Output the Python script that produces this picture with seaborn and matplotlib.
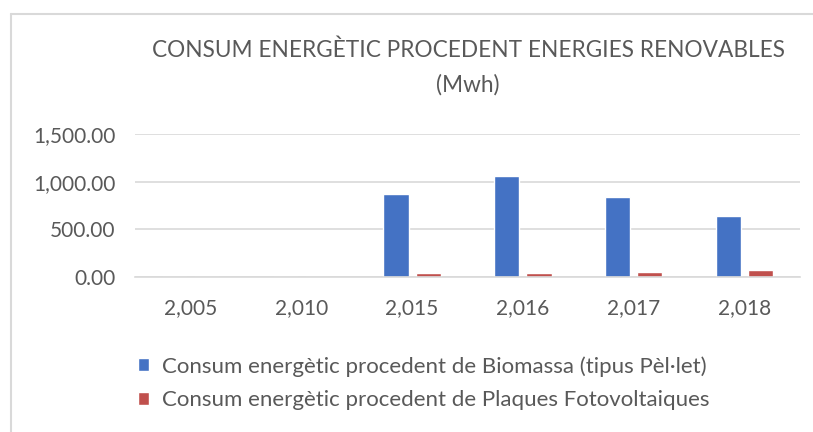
import matplotlib.pyplot as plt
import matplotlib.lines as mlines
import matplotlib.ticker as mticker
import pandas as pd
import seaborn as sns

# values (MWh)
years = ['2,005', '2,010', '2,015', '2,016', '2,017', '2,018']
biomassa = [0, 0, 867, 1056, 840, 642]
fotovoltaiques = [0, 0, 39, 43, 50, 77]

serie_bio = 'Consum energètic procedent de Biomassa (tipus Pèl·let)'
serie_fv = 'Consum energètic procedent de Plaques Fotovoltaiques'

df = pd.DataFrame({'any': years * 2,
                   'valor': biomassa + fotovoltaiques,
                   'serie': [serie_bio] * len(years) + [serie_fv] * len(years)})

sns.set_theme(style='white')
plt.rcParams['font.family'] = ['Lato', 'DejaVu Sans']
gray_txt = '#595959'

fig = plt.figure(figsize=(8.13, 4.32), dpi=100)
ax = fig.add_axes([135 / 813, 1 - 277 / 432, 665 / 813, 143 / 432])

sns.barplot(data=df, x='any', y='valor', hue='serie',
            palette=['#4472C4', '#C0504D'], width=0.58, gap=0.22,
            saturation=1, ax=ax, legend=True)

ax.set_ylim(0, 1500)
ax.set_yticks([0, 500, 1000, 1500])
ax.yaxis.set_major_formatter(mticker.StrMethodFormatter('{x:,.2f}'))
ax.yaxis.grid(True, color='#d9d9d9', linewidth=1.2)
ax.set_axisbelow(True)
for s in ['top', 'right', 'left']:
    ax.spines[s].set_visible(False)
ax.spines['bottom'].set_color('#d9d9d9')
ax.spines['bottom'].set_linewidth(1.2)
ax.tick_params(axis='both', length=0, labelsize=15, colors=gray_txt)
ax.tick_params(axis='y', pad=14)
ax.tick_params(axis='x', pad=15)
ax.set_xlabel('')
ax.set_ylabel('')

handles, labels = ax.get_legend_handles_labels()
ax.get_legend().remove()
fig.legend(handles, labels, loc='upper left', bbox_to_anchor=(138 / 813, 1 - 356 / 432),
           frameon=False, fontsize=16, labelcolor=gray_txt, handlelength=0.5,
           handleheight=0.55, handletextpad=0.6, labelspacing=0.62, borderpad=0,
           borderaxespad=0)

fig.text(468 / 813, 1 - 50 / 432, 'CONSUM ENERGÈTIC PROCEDENT ENERGIES RENOVABLES',
         ha='center', va='center', fontsize=16.3, color=gray_txt)
fig.text(468 / 813, 1 - 85 / 432, '(Mwh)', ha='center', va='center',
         fontsize=16.3, color=gray_txt)

# chart frame (top and left edges visible in the reference)
fig.add_artist(mlines.Line2D([11 / 813, 1], [1 - 14 / 432, 1 - 14 / 432],
                             color='#d9d9d9', linewidth=1.5))
fig.add_artist(mlines.Line2D([11 / 813, 11 / 813], [0, 1 - 14 / 432],
                             color='#d9d9d9', linewidth=1.5))

fig.savefig('out.png', dpi=100, facecolor='white')
